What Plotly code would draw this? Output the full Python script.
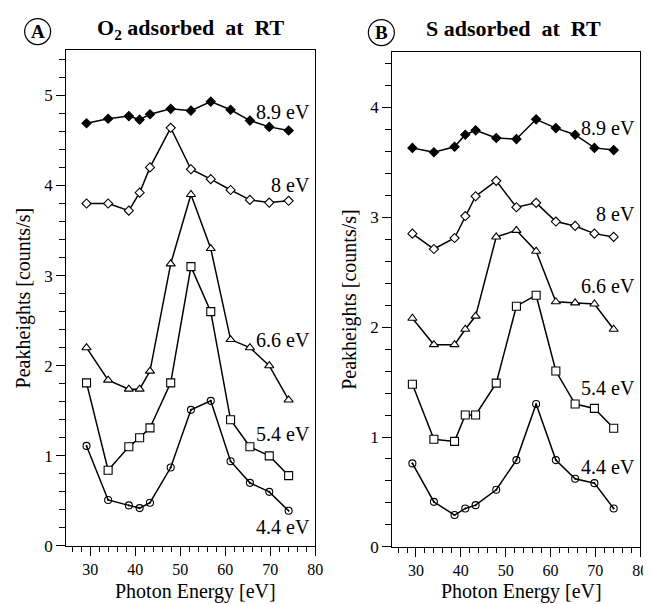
import plotly.graph_objects as go

# Photon energies [eV]
energy = [29.2, 34.0, 38.6, 41.0, 43.3, 47.9, 52.4, 56.8, 61.2, 65.5, 69.8, 74.1]

# Panel A: O2 adsorbed at RT
a_44 = [1.11, 0.51, 0.45, 0.42, 0.48, 0.87, 1.51, 1.61, 0.94, 0.70, 0.60, 0.39]
a_54 = [1.81, 0.84, 1.10, 1.20, 1.31, 1.81, 3.10, 2.60, 1.40, 1.10, 1.00, 0.78]
a_66 = [2.20, 1.84, 1.74, 1.74, 1.94, 3.13, 3.90, 3.30, 2.29, 2.20, 2.00, 1.62]
a_80 = [3.80, 3.80, 3.72, 3.92, 4.20, 4.64, 4.18, 4.07, 3.95, 3.84, 3.81, 3.83]
a_89 = [4.69, 4.74, 4.77, 4.73, 4.79, 4.85, 4.83, 4.93, 4.84, 4.72, 4.65, 4.61]

# Panel B: S adsorbed at RT
b_44 = [0.76, 0.41, 0.29, 0.35, 0.38, 0.52, 0.79, 1.30, 0.79, 0.62, 0.58, 0.35]
b_54 = [1.48, 0.98, 0.96, 1.20, 1.20, 1.49, 2.19, 2.29, 1.60, 1.30, 1.26, 1.08]
b_66 = [2.08, 1.84, 1.84, 1.98, 2.10, 2.82, 2.88, 2.69, 2.23, 2.22, 2.21, 1.98]
b_80 = [2.85, 2.71, 2.81, 3.01, 3.19, 3.33, 3.09, 3.13, 2.96, 2.92, 2.85, 2.82]
b_89 = [3.63, 3.59, 3.64, 3.75, 3.79, 3.72, 3.71, 3.89, 3.81, 3.75, 3.63, 3.61]

series_names = ["4.4 eV", "5.4 eV", "6.6 eV", "8 eV", "8.9 eV"]
label_y_a = [0.21, 1.24, 2.29, 4.00, 4.81]
label_y_b = [0.73, 1.45, 2.37, 3.03, 3.81]

FONT = "Liberation Serif"
W, H = 651, 604

styles = [
    dict(symbol="circle-open-dot", size=7, color="black"),
    dict(symbol="square", size=8, color="white"),
    dict(symbol="triangle-up", size=8, color="white"),
    dict(symbol="diamond", size=7, color="white"),
    dict(symbol="diamond", size=7, color="black"),
]

fig = go.Figure()

panels = [
    ("x", "y", [a_44, a_54, a_66, a_80, a_89], label_y_a),
    ("x2", "y2", [b_44, b_54, b_66, b_80, b_89], label_y_b),
]

for xr, yr, data, ly in panels:
    for vals, st, name, lyv in zip(data, styles, series_names, ly):
        fig.add_trace(go.Scatter(
            x=energy, y=vals, mode="lines+markers", xaxis=xr, yaxis=yr,
            line=dict(color="black", width=1.5),
            marker=dict(symbol=st["symbol"], size=st["size"], color=st["color"],
                        line=dict(color="black", width=1.1)),
            showlegend=False, name=name,
        ))
        fig.add_annotation(x=79.4, y=lyv, xref=xr, yref=yr, text=name,
                           showarrow=False, xanchor="right", yanchor="middle",
                           font=dict(family=FONT, size=20, color="black"))

def xax(domain):
    return dict(domain=domain, range=[24.7, 80], showline=True, linecolor="black",
                linewidth=1.2, mirror=True, ticks="outside", ticklen=9, tickwidth=1.2,
                tickcolor="black", dtick=10, tick0=0, showgrid=False, zeroline=False,
                minor=dict(dtick=2, tick0=0, ticks="outside", ticklen=5, tickwidth=1.2,
                           tickcolor="black", showgrid=False),
                tickfont=dict(family=FONT, size=16, color="black"))

def yax(domain, top, anchor):
    return dict(domain=domain, range=[0, top], showline=True, linecolor="black",
                linewidth=1.2, mirror=True, ticks="outside", ticklen=9, tickwidth=1.2,
                tickcolor="black", dtick=1, tick0=0, showgrid=False, zeroline=False,
                anchor=anchor,
                minor=dict(dtick=0.2, tick0=0, ticks="outside", ticklen=6, tickwidth=1.2,
                           tickcolor="black", showgrid=False),
                tickfont=dict(family=FONT, size=17, color="black"),
                title=dict(text="Peakheights [counts/s]", standoff=8,
                           font=dict(family=FONT, size=20, color="black")))

fig.update_layout(
    width=W, height=H, margin=dict(l=0, r=0, t=0, b=0),
    paper_bgcolor="white", plot_bgcolor="white",
    font=dict(family=FONT, color="black"),
    xaxis=dict(**xax([59 / W, 311 / W]), anchor="y"),
    yaxis=yax([1 - 547 / H, 1 - 43 / H], 5.5, "x"),
    xaxis2=dict(**xax([389 / W, 640 / W]), anchor="y2"),
    yaxis2=yax([1 - 548 / H, 1 - 45 / H], 4.5, "x2"),
)

# X-axis titles
for cx in [190, 520]:
    fig.add_annotation(x=cx / W, y=0, xref="paper", yref="paper",
                       text="Photon Energy [eV]", showarrow=False,
                       xanchor="center", yanchor="bottom", yshift=-3,
                       font=dict(family=FONT, size=20, color="black"))

# Panel titles
fig.add_annotation(x=185 / W, y=1 - 21 / H, xref="paper", yref="paper",
                   text="<b>O<sub>2</sub> adsorbed  at  RT</b>", showarrow=False,
                   xanchor="center", yanchor="middle",
                   font=dict(family=FONT, size=22, color="black"))
fig.add_annotation(x=512 / W, y=1 - 21 / H, xref="paper", yref="paper",
                   text="<b>S adsorbed  at  RT</b>", showarrow=False,
                   xanchor="center", yanchor="middle",
                   font=dict(family=FONT, size=22, color="black"))

# Circled panel letters
for cx, cy, letter in [(30, 24, "A"), (378, 25, "B")]:
    fig.add_shape(type="circle", xref="paper", yref="paper",
                  xsizemode="pixel", ysizemode="pixel",
                  xanchor=cx / W, yanchor=1 - cy / H,
                  x0=-13, x1=13, y0=-13, y1=13,
                  line=dict(color="black", width=1.2))
    fig.add_annotation(x=cx / W, y=1 - cy / H, xref="paper", yref="paper",
                       text="<b>" + letter + "</b>", showarrow=False,
                       xanchor="center", yanchor="middle",
                       font=dict(family=FONT, size=19, color="black"))

fig.write_html("out.html")
